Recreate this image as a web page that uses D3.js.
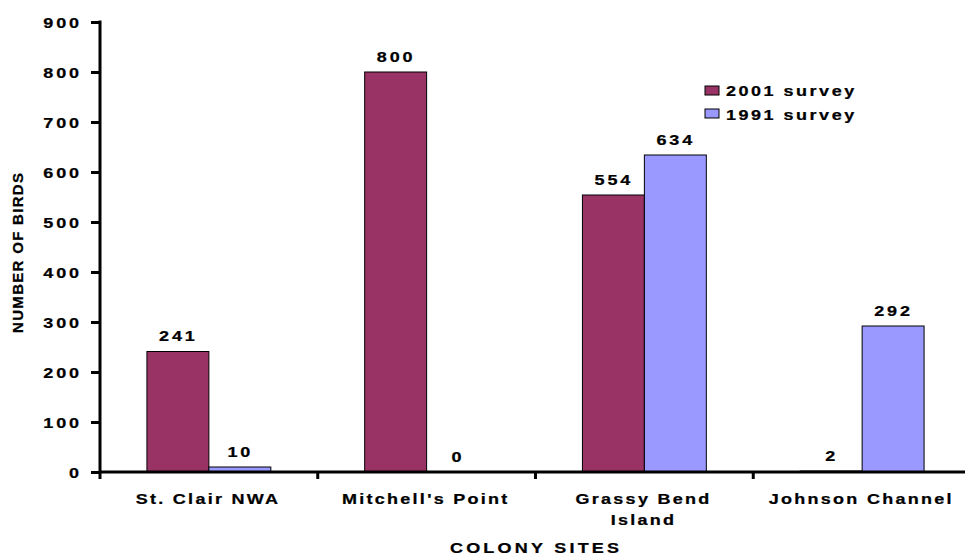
<!DOCTYPE html>
<html>
<head>
<meta charset="utf-8">
<script src="https://cdn.jsdelivr.net/npm/d3@7"></script>
<style>
  html, body { margin: 0; padding: 0; background: #fff; }
  svg { display: block; font-family: "Liberation Sans", Arial, sans-serif; font-weight: bold; }
  svg text { stroke: #000; stroke-width: 0.25px; }
</style>
</head>
<body>
<svg id="chart" width="965" height="556"></svg>
<script>
// ---- data ----
const categories = ["St. Clair NWA", "Mitchell's Point", "Grassy Bend Island", "Johnson Channel"];
const categoryLines = [["St. Clair NWA"], ["Mitchell's Point"], ["Grassy Bend", "Island"], ["Johnson Channel"]];
const seriesNames = ["2001 survey", "1991 survey"];
const survey2001 = [241, 800, 554, 2];
const survey1991 = [10, 0, 634, 292];
const yTicks = [0, 100, 200, 300, 400, 500, 600, 700, 800, 900];
const colors = ["#993366", "#9999FF"];

(function () {
const svg = d3.select("#chart");
const mLeft = 100, mRight = 971, mTop = 22, mBottom = 472;
const padIn = 0.431, padOut = padIn / 2;
const SX = 1.2, FS = 15;

// text helper: horizontally widened bold text
function label(parent, x, y, txt, o) {
  const opt = Object.assign({ anchor: "middle", ls: 2, sx: SX, size: FS }, o || {});
  const gg = parent.append("g").attr("transform", `translate(${x},${y}) scale(${opt.sx},1)`);
  const t = gg.append("text").attr("text-anchor", opt.anchor)
    .style("font-size", opt.size + "px").style("letter-spacing", opt.ls + "px")
    .attr("fill", "#000").text(txt);
  if (opt.anchor === "middle") t.attr("dx", opt.ls / 2);
  if (opt.anchor === "end") t.attr("dx", opt.ls);
  return t;
}

const y = d3.scaleLinear().domain([0, 900]).range([mBottom, mTop]);
const x0 = d3.scaleBand().domain(categories).range([mLeft, mRight])
  .paddingInner(padIn).paddingOuter(padOut);
const x1 = d3.scaleBand().domain(seriesNames).range([0, x0.bandwidth()]);

const rows = categories.map((c, i) => ({ cat: c, values: [survey2001[i], survey1991[i]] }));

// bars
const g = svg.append("g");
rows.forEach(r => {
  r.values.forEach((v, j) => {
    const bx = x0(r.cat) + x1(seriesNames[j]);
    if (v > 0) {
      g.append("rect")
        .attr("x", bx).attr("y", y(v))
        .attr("width", x1.bandwidth()).attr("height", y(0) - y(v))
        .attr("fill", colors[j]).attr("stroke", "#000").attr("stroke-width", 1);
    }
    label(g, bx + x1.bandwidth() / 2 - 1, y(v) - 10.5, String(v), { ls: 2.4 });
  });
});

// y axis
const yAxis = d3.axisLeft(y).tickValues(yTicks).tickSize(9).tickFormat(() => "");
const ya = svg.append("g").attr("transform", `translate(${mLeft},0)`).call(yAxis);
ya.select(".domain").attr("stroke", "#000").attr("stroke-width", 3)
  .attr("d", `M0,${mTop - 1.5}V${mBottom + 7}`);
ya.selectAll(".tick line").attr("stroke", "#000").attr("stroke-width", 3);
yTicks.forEach(t => label(svg, 79, y(t) + 6, String(t), { anchor: "end", ls: 2.4 }));

// x axis
const boundaries = categories.map(c => x0(c) - x0.step() * padOut).concat([mRight]);
svg.append("line").attr("x1", mLeft).attr("x2", mRight).attr("y1", mBottom).attr("y2", mBottom)
  .attr("stroke", "#000").attr("stroke-width", 3);
svg.selectAll(".xtick").data(boundaries.slice(1)).enter().append("line")
  .attr("x1", d => d).attr("x2", d => d).attr("y1", mBottom).attr("y2", mBottom + 7)
  .attr("stroke", "#000").attr("stroke-width", 3);

categories.forEach((c, i) => {
  const cx = x0(c) + x0.bandwidth() / 2;
  categoryLines[i].forEach((ln, k) => {
    label(svg, cx - 2, 504 + k * 21, ln, { ls: 1.9 });
  });
});

// axis titles
label(svg, (mLeft + mRight) / 2 - 1, 553, "COLONY SITES", { ls: 2.7 });
svg.append("text").attr("transform", "translate(23,253) rotate(-90)")
  .attr("text-anchor", "middle").attr("dx", 0.65)
  .style("font-size", FS + "px").style("letter-spacing", "1.3px")
  .text("NUMBER OF BIRDS");

// legend
const lg = svg.append("g").attr("transform", "translate(705,86)");
seriesNames.forEach((s, i) => {
  lg.append("rect").attr("x", 0).attr("y", i * 23).attr("width", 14).attr("height", 9)
    .attr("fill", colors[i]).attr("stroke", "#000").attr("stroke-width", 1);
  label(lg, 21, i * 24 + 10, s, { anchor: "start", ls: 2.1 });
});
})();
</script>
</body>
</html>
